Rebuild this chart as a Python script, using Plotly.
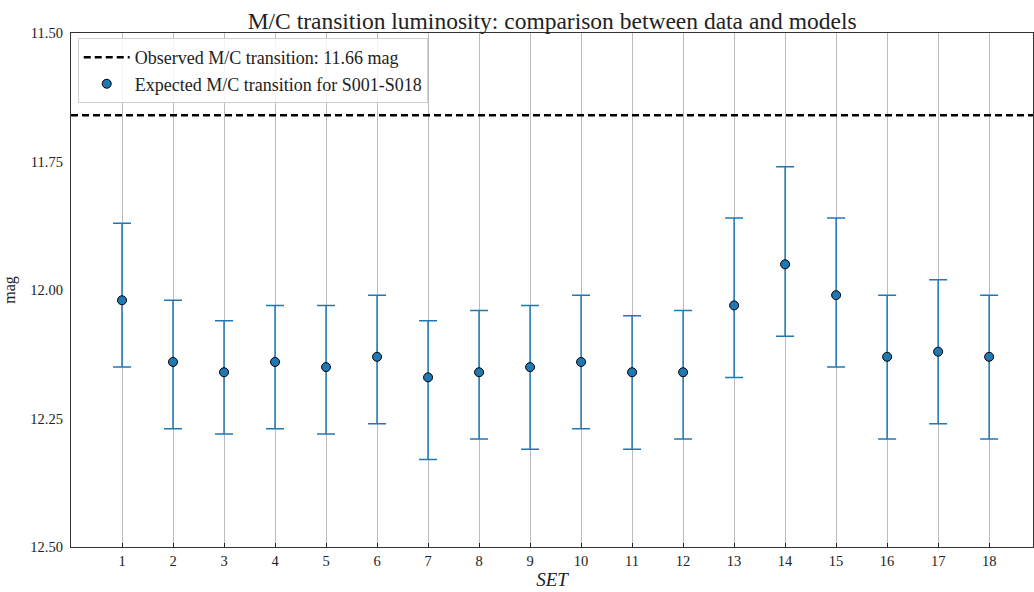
import plotly.graph_objects as go

# Model sets S001-S018 and the expected M/C transition magnitude for each
sets = list(range(1, 19))
mag_expected = [12.02, 12.14, 12.16, 12.14, 12.15, 12.13, 12.17, 12.16, 12.15,
                12.14, 12.16, 12.16, 12.03, 11.95, 12.01, 12.13, 12.12, 12.13]
# Bright (upper) and faint (lower) bounds of each expected value
mag_bright = [11.87, 12.02, 12.06, 12.03, 12.03, 12.01, 12.06, 12.04, 12.03,
              12.01, 12.05, 12.04, 11.86, 11.76, 11.86, 12.01, 11.98, 12.01]
mag_faint = [12.15, 12.27, 12.28, 12.27, 12.28, 12.26, 12.33, 12.29, 12.31,
             12.27, 12.31, 12.29, 12.17, 12.09, 12.15, 12.29, 12.26, 12.29]

observed_mag = 11.66
x_limits = [0, 18.86]
y_limits = [12.5, 11.5]
y_ticks = [11.5, 11.75, 12.0, 12.25, 12.5]
y_tick_text = ["11.50", "11.75", "12.00", "12.25", "12.50"]

err_plus = [f - m for f, m in zip(mag_faint, mag_expected)]
err_minus = [m - b for m, b in zip(mag_expected, mag_bright)]

FONT = "Liberation Serif"
BLUE = "#1f77b4"
TEXT = "#222"

fig = go.Figure()

fig.add_trace(go.Scatter(
    x=x_limits, y=[observed_mag, observed_mag],
    mode="lines",
    line=dict(color="black", width=2.5, dash="7px,4px"),
    name=f"Observed M/C transition: {observed_mag:.2f} mag",
))

fig.add_trace(go.Scatter(
    x=sets, y=mag_expected,
    mode="markers",
    marker=dict(color=BLUE, size=9, line=dict(color="black", width=1)),
    error_y=dict(type="data", symmetric=False, array=err_plus,
                 arrayminus=err_minus, color=BLUE, thickness=1.5, width=9),
    name="Expected M/C transition for S001-S018",
))

fig.update_layout(
    width=1034, height=592,
    margin=dict(l=71, r=1, t=33, b=45),
    paper_bgcolor="white", plot_bgcolor="white",
    font=dict(family=FONT, color=TEXT, size=14),
    title=dict(text="M/C transition luminosity: comparison between data and models",
               x=0.534, xanchor="center", y=0.965, yanchor="middle",
               font=dict(family=FONT, size=23.5, color=TEXT)),
    showlegend=True,
    legend=dict(x=0.007, y=0.99, xanchor="left", yanchor="top",
                bgcolor="rgba(255,255,255,0.85)", bordercolor="#d0d0d0",
                borderwidth=1, font=dict(family=FONT, size=18, color=TEXT),
                itemwidth=46, tracegroupgap=0),
)

fig.update_xaxes(
    range=x_limits, tickmode="array", tickvals=sets,
    ticks="inside", ticklen=4, tickcolor=TEXT,
    showgrid=True, gridcolor="#bcbcbc", gridwidth=1,
    showline=True, linecolor="#333", linewidth=1.3, mirror=True,
    zeroline=False,
    tickfont=dict(family=FONT, size=14.5, color=TEXT),
    title=dict(text="<i>SET</i>", standoff=5,
               font=dict(family=FONT, size=19, color=TEXT)),
)

fig.update_yaxes(
    range=y_limits, tickmode="array", tickvals=y_ticks, ticktext=y_tick_text,
    ticks="", showgrid=False, zeroline=False,
    showline=True, linecolor="#333", linewidth=1.3, mirror=True,
    tickfont=dict(family=FONT, size=14.5, color=TEXT),
    ticklabelstandoff=4,
    title=dict(text="mag", standoff=10,
               font=dict(family=FONT, size=16, color=TEXT)),
)

fig.write_html("out.html")
